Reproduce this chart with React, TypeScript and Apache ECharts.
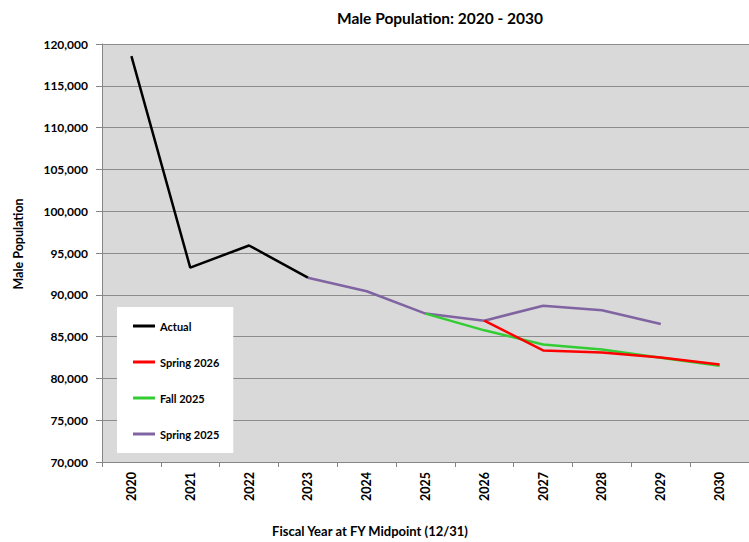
import React, { useEffect, useRef } from "react";
import * as echarts from "echarts";

const years = ["2020", "2021", "2022", "2023", "2024", "2025", "2026", "2027", "2028", "2029", "2030"];
const actual = [118550, 93250, 95900, 92050, null, null, null, null, null, null, null];
const spring2026 = [null, null, null, null, null, null, 86900, 83350, 83100, 82500, 81650];
const fall2025 = [null, null, null, null, null, 87750, 85750, 84050, 83450, 82480, 81500];
const spring2025 = [null, null, null, 92050, 90420, 87750, 86900, 88700, 88150, 86500, null];
const yTicks = { min: 70000, max: 120000, interval: 5000 };

const FONT = "Lato, 'Liberation Sans', sans-serif";

export default function App() {
  const ref = useRef<HTMLDivElement>(null);
  useEffect(() => {
    document.body.style.margin = "0";
    const chart = echarts.init(ref.current!, null, { renderer: "svg" });
    const mk = (name: string, data: (number | null)[], color: string) => ({
      name,
      type: "line",
      data,
      symbol: "none",
      lineStyle: { color, width: 2.5 },
      itemStyle: { color },
      connectNulls: false,
    });
    chart.setOption({
      animation: false,
      backgroundColor: "#ffffff",
      textStyle: { fontFamily: FONT },
      title: {
        text: "Male Population: 2020 - 2030",
        left: 435,
        textAlign: "center",
        top: 5,
        textStyle: { fontFamily: FONT, fontWeight: "bold", fontSize: 15.5, color: "#000" },
      },
      grid: {
        left: 102,
        right: 0,
        top: 44,
        bottom: 80,
        show: true,
        backgroundColor: "#d9d9d9",
        borderWidth: 0,
      },
      legend: {
        orient: "vertical",
        left: 117,
        top: 307,
        backgroundColor: "#ffffff",
        padding: [12, 14, 12, 16],
        itemGap: 22,
        itemWidth: 22,
        itemHeight: 3,
        icon: "rect",
        textStyle: { fontFamily: FONT, fontWeight: "bold", fontSize: 11, color: "#000", lineHeight: 14 },
        data: ["Actual", "Spring 2026", "Fall 2025", "Spring 2025"],
      },
      xAxis: {
        type: "category",
        data: years,
        boundaryGap: true,
        axisLine: { lineStyle: { color: "#868686", width: 1 } },
        axisTick: { show: true, length: 5, lineStyle: { color: "#868686" } },
        axisLabel: {
          rotate: 90,
          fontFamily: FONT,
          fontWeight: "bold",
          fontSize: 12.5,
          color: "#000",
          margin: 10,
        },
        splitLine: { show: false },
      },
      yAxis: {
        type: "value",
        min: yTicks.min,
        max: yTicks.max,
        interval: yTicks.interval,
        axisLine: { show: true, lineStyle: { color: "#868686", width: 1 } },
        axisTick: { show: true, length: 6, lineStyle: { color: "#868686" } },
        axisLabel: {
          fontFamily: FONT,
          fontWeight: "bold",
          fontSize: 12,
          color: "#000",
          margin: 14,
          formatter: (v: number) => v.toLocaleString("en-US"),
        },
        splitLine: { show: true, lineStyle: { color: "#8c8c8c", width: 1 } },
      },
      graphic: [
        {
          type: "text",
          x: 18,
          y: 244,
          rotation: Math.PI / 2,
          style: {
            text: "Male Population",
            fontFamily: FONT,
            fontWeight: "bold",
            fontSize: 12.5,
            fill: "#000",
            align: "center",
            verticalAlign: "middle",
          },
        },
        {
          type: "text",
          x: 370,
          y: 531,
          style: {
            text: "Fiscal Year at FY Midpoint (12/31)",
            fontFamily: FONT,
            fontWeight: "bold",
            fontSize: 13,
            fill: "#000",
            align: "center",
            verticalAlign: "middle",
          },
        },
      ],
      series: [
        mk("Spring 2025", spring2025, "#8064a2"),
        mk("Fall 2025", fall2025, "#33cc33"),
        mk("Spring 2026", spring2026, "#ff0000"),
        mk("Actual", actual, "#000000"),
      ],
    });
    return () => chart.dispose();
  }, []);
  return <div ref={ref} style={{ width: 749, height: 542 }} />;
}
